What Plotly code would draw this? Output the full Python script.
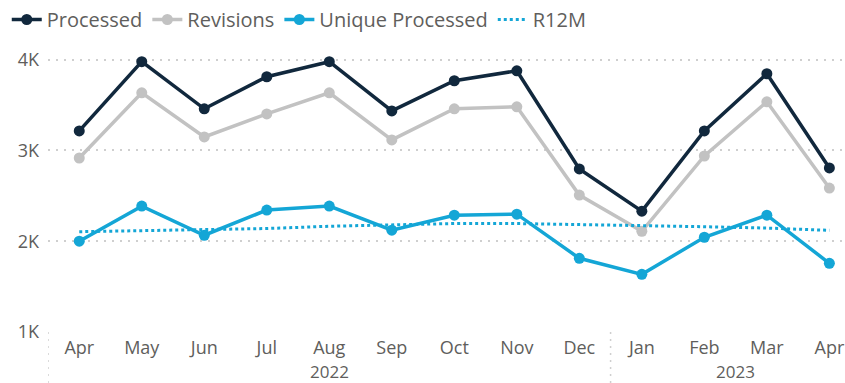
import plotly.graph_objects as go

# Monthly series, Apr 2022 - Apr 2023
years = ["2022"] * 9 + ["2023"] * 4
months = ["Apr", "May", "Jun", "Jul", "Aug", "Sep", "Oct", "Nov", "Dec",
          "Jan", "Feb", "Mar", "Apr"]

processed = [3215, 3978, 3459, 3812, 3978, 3436, 3768, 3878, 2796, 2331, 3215, 3845, 2807]
revisions = [2917, 3635, 3149, 3403, 3635, 3116, 3459, 3481, 2508, 2110, 2939, 3536, 2586]
unique_processed = [2000, 2387, 2066, 2343, 2387, 2122, 2287, 2298, 1812, 1635, 2044, 2287, 1757]
r12m = [2105, 2115, 2125, 2140, 2165, 2180, 2195, 2195, 2185, 2175, 2160, 2145, 2120]

y_ticks = [1000, 2000, 3000, 4000]
y_labels = ["1K", "2K", "3K", "4K"]

idx = list(range(len(months)))

NAVY = "#11283d"
GREY = "#c2c2c2"
CYAN = "#14a6d6"
TEXT = "#605e5c"
GRID = "#cfcfcf"

fig = go.Figure()
fig.add_trace(go.Scatter(x=idx, y=processed, name="Processed", mode="lines+markers",
                         line=dict(color=NAVY, width=3.5), marker=dict(size=11, color=NAVY)))
fig.add_trace(go.Scatter(x=idx, y=revisions, name="Revisions", mode="lines+markers",
                         line=dict(color=GREY, width=3.5), marker=dict(size=11, color=GREY)))
fig.add_trace(go.Scatter(x=idx, y=unique_processed, name="Unique Processed", mode="lines+markers",
                         line=dict(color=CYAN, width=3.5), marker=dict(size=11, color=CYAN)))
fig.add_trace(go.Scatter(x=idx, y=r12m, name="R12M", mode="lines",
                         line=dict(color=CYAN, width=3, dash="dot")))

# Year group labels centred under their months, with dotted dividers at group edges
groups = []
for i, yr in enumerate(years):
    if not groups or groups[-1][0] != yr:
        groups.append([yr, i, i])
    else:
        groups[-1][2] = i

for yr, first, last in groups:
    fig.add_annotation(x=(first + last) / 2, y=0, xref="x", yref="paper",
                       yshift=-39, yanchor="middle", text=yr, showarrow=False,
                       borderpad=0, font=dict(size=17, color=TEXT))
    fig.add_shape(type="line", x0=first - 0.5, x1=first - 0.5, y0=0, y1=-0.2,
                  xref="x", yref="paper", line=dict(color=GRID, width=1.5, dash="2px,5px"))

fig.update_layout(
    width=845, height=383,
    margin=dict(l=48, r=0, t=37, b=51, autoexpand=False),
    paper_bgcolor="white", plot_bgcolor="white",
    font=dict(family="Open Sans, DejaVu Sans, sans-serif", color=TEXT, size=18),
    showlegend=True,
    legend=dict(orientation="h", x=0.008, xanchor="left", xref="container",
                y=1.0, yanchor="top", yref="container",
                font=dict(size=20, color=TEXT),
                tracegroupgap=0, bgcolor="rgba(0,0,0,0)"),
    xaxis=dict(range=[-0.5, 12.25], tickvals=idx, ticktext=months,
               showgrid=False, showline=False, zeroline=False, ticks="",
               ticklabelstandoff=3,
               tickfont=dict(size=18, color=TEXT)),
    yaxis=dict(range=[1000, 4250], tickvals=y_ticks, ticktext=y_labels,
               showgrid=True, gridcolor=GRID, griddash="2px,6px", gridwidth=1.5,
               zeroline=False, showline=False, ticks="",
               ticklabelstandoff=8,
               tickfont=dict(size=18, color=TEXT)),
)

fig.write_html("out.html")
